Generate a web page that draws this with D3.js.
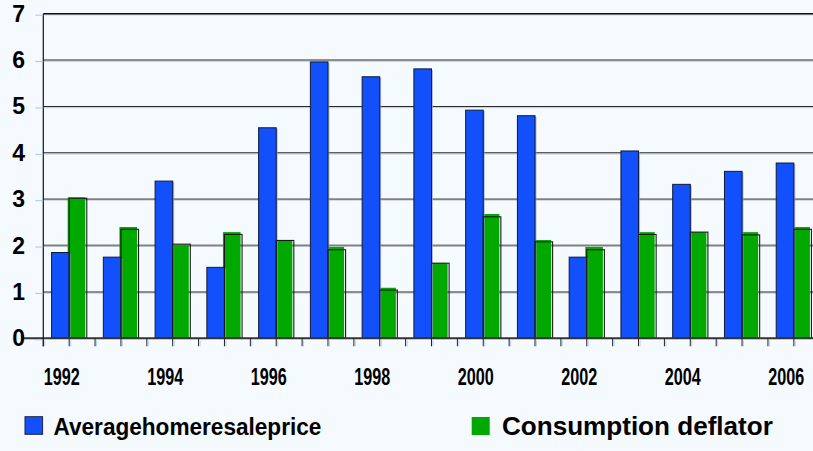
<!DOCTYPE html>
<html>
<head>
<meta charset="utf-8">
<script src="https://cdn.jsdelivr.net/npm/d3@7/dist/d3.min.js"></script>
<style>
  html, body { margin: 0; padding: 0; background: #f5faff; }
  svg { display: block; }
  svg text { font-family: Arial, "Liberation Sans", Helvetica, sans-serif; font-weight: 700; fill: #000; }
</style>
</head>
<body>
<svg id="chart" width="813" height="451"></svg>
<script>
// Annual % change, 1992-2006
const years = d3.range(1992, 2007).map(String);
const resalePrice     = [1.85, 1.75, 3.39, 1.53, 4.54, 5.96, 5.64, 5.81, 4.92, 4.80, 1.75, 4.04, 3.32, 3.60, 3.78];
const deflator        = [3.04, 2.40, 2.01, 2.29, 2.11, 1.97, 1.09, 1.62, 2.68, 2.12, 1.97, 2.29, 2.29, 2.29, 2.40];
// outlined overlay of the deflator series
const deflatorOverlay = [3.02, 2.35, 2.03, 2.24, 2.11, 1.91, 1.04, 1.62, 2.62, 2.08, 1.91, 2.24, 2.29, 2.23, 2.35];
const yTicks = [0, 1, 2, 3, 4, 5, 6, 7];
const xLabels = ["1992", "1994", "1996", "1998", "2000", "2002", "2004", "2006"];
const seriesNames = ["Averagehomeresaleprice", "Consumption deflator"];

const BLUE = "#1150fb", GREEN = "#00a800";
const FONT = "Arial, 'Liberation Sans', sans-serif";

const svg = d3.select("#chart");
const plotLeft = 43.3, plotBottom = 338.3, plotTop = 13.7;

const x = d3.scaleBand().domain(years).range([plotLeft, plotLeft + 15 * 51.76]).padding(0);
const xs = d3.scaleBand().domain(["price", "deflator"]).range([0, x.bandwidth()])
  .paddingInner(0).paddingOuter(0.47);
const y = d3.scaleLinear().domain([0, 7]).range([plotBottom, plotTop]);

// squeeze a text horizontally to a given width (anchored at its start)
function squeeze(sel, width) {
  sel.each(function () {
    const w = this.getComputedTextLength();
    const t = d3.select(this);
    const x0 = +t.attr("x"), y0 = +t.attr("y");
    t.attr("x", 0).attr("y", 0)
      .attr("transform", `translate(${x0},${y0}) scale(${width / w},1)`);
  });
}

// gridlines
const grid = svg.append("g");
yTicks.filter(t => t > 0).forEach(t => {
  const heavyGrey = (t === 2 || t === 3);
  if (!heavyGrey) {
    grid.append("line").attr("x1", plotLeft).attr("x2", 813)
      .attr("y1", y(t) + 1.2).attr("y2", y(t) + 1.2)
      .attr("stroke", "#c4ccd4").attr("stroke-width", 1);
  }
  grid.append("line").attr("x1", plotLeft).attr("x2", 813)
    .attr("y1", y(t)).attr("y2", y(t))
    .attr("stroke", heavyGrey ? "#808080" : (t === 7 ? "#111" : "#2a2a2a"))
    .attr("stroke-width", heavyGrey ? 2 : (t === 7 ? 1.6 : 1.1));
});

// deflator fill layer
const idx = years.map((d, i) => i);
svg.append("g").selectAll("rect").data(idx).join("rect")
  .attr("x", i => x(years[i]) + xs("deflator") - 1.5)
  .attr("y", i => y(deflator[i]))
  .attr("width", xs.bandwidth())
  .attr("height", i => y(0) - y(deflator[i]))
  .attr("fill", GREEN);

// resale price bars with a soft edge shadow
const priceG = svg.append("g");
priceG.selectAll("rect.sh").data(idx).join("rect").attr("class", "sh")
  .attr("x", i => x(years[i]) + xs("price") + 1.5)
  .attr("y", i => y(resalePrice[i]) + 1)
  .attr("width", xs.bandwidth())
  .attr("height", i => y(0) - y(resalePrice[i]) - 1)
  .attr("fill", "#9aa3b0").attr("opacity", 0.7);
priceG.selectAll("rect.bar").data(idx).join("rect").attr("class", "bar")
  .attr("x", i => x(years[i]) + xs("price"))
  .attr("y", i => y(resalePrice[i]))
  .attr("width", xs.bandwidth())
  .attr("height", i => y(0) - y(resalePrice[i]))
  .attr("fill", BLUE).attr("stroke", "#0d1a3a").attr("stroke-width", 1);

// deflator outline overlay
svg.append("g").selectAll("rect").data(idx).join("rect")
  .attr("x", i => x(years[i]) + xs("deflator"))
  .attr("y", i => y(deflatorOverlay[i]))
  .attr("width", xs.bandwidth())
  .attr("height", i => y(0) - y(deflatorOverlay[i]))
  .attr("fill", "none").attr("stroke", "#1a1a1a").attr("stroke-width", 1.1);

// baseline and y axis
svg.append("line").attr("x1", plotLeft - 20).attr("x2", 813).attr("y1", plotBottom).attr("y2", plotBottom)
  .attr("stroke", "#333").attr("stroke-width", 2);
svg.append("line").attr("x1", plotLeft).attr("x2", plotLeft).attr("y1", plotTop).attr("y2", plotBottom + 8)
  .attr("stroke", "#111").attr("stroke-width", 1.2);

// y tick marks and labels
yTicks.forEach(t => {
  svg.append("line").attr("x1", plotLeft - 8).attr("x2", plotLeft).attr("y1", y(t) + 1.5).attr("y2", y(t) + 1.5)
    .attr("stroke", "#a9c4ef").attr("stroke-width", 1);
  svg.append("text").attr("x", 25).attr("y", y(t) + 8)
    .attr("font-family", FONT).attr("font-weight", "bold")
    .attr("text-anchor", "end").attr("font-size", 23).text(t);
});

// x tick marks at category edges and centres
const xTickPos = [];
years.forEach(d => { xTickPos.push(x(d)); xTickPos.push(x(d) + x.bandwidth() / 2); });
svg.append("g").selectAll("line").data(xTickPos.filter(p => p < 813)).join("line")
  .attr("x1", p => p).attr("x2", p => p).attr("y1", plotBottom).attr("y2", plotBottom + 8)
  .attr("stroke", "#222").attr("stroke-width", 1);
svg.append("g").selectAll("line").data(xTickPos.filter(p => p < 813)).join("line")
  .attr("x1", p => p + 1.5).attr("x2", p => p + 1.5).attr("y1", plotBottom + 2).attr("y2", plotBottom + 8)
  .attr("stroke", "#b8cdf2").attr("stroke-width", 1);

// x labels (every other year), condensed
svg.append("g").selectAll("text").data(xLabels).join("text")
  .attr("x", d => x(d) + x.bandwidth() / 2 - 7.5 - 18)
  .attr("y", 385)
  .attr("font-family", FONT).attr("font-weight", "bold")
  .attr("font-size", 24)
  .text(d => d)
  .call(squeeze, 36);

// legend
const legend = svg.append("g").attr("font-family", FONT).attr("font-weight", "bold");
legend.append("rect").attr("x", 25).attr("y", 416.7).attr("width", 17.6).attr("height", 17.6)
  .attr("fill", BLUE).attr("stroke", "#1b2440").attr("stroke-width", 1);
legend.append("text").attr("x", 53.5).attr("y", 434.5).attr("font-size", 24)
  .text(seriesNames[0]).call(squeeze, 268);
legend.append("rect").attr("x", 471.7).attr("y", 417).attr("width", 18).attr("height", 18)
  .attr("fill", GREEN);
legend.append("text").attr("x", 502).attr("y", 434.5).attr("font-size", 25)
  .text(seriesNames[1]).call(squeeze, 271);
</script>
</body>
</html>
